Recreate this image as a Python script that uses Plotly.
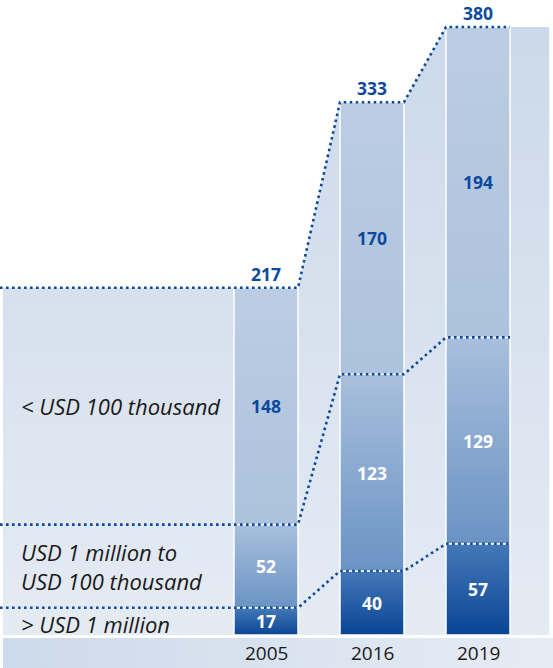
import plotly.graph_objects as go

# ---------------- data ----------------
years = ["2005", "2016", "2019"]
over_1m = [17, 40, 57]            # > USD 1 million
mid_100k_1m = [52, 123, 129]      # USD 1 million to USD 100 thousand
under_100k = [148, 170, 194]      # < USD 100 thousand
totals = [217, 333, 380]
segment_labels = ["> USD 1 million", "USD 1 million to<br>USD 100 thousand", "< USD 100 thousand"]

# ---------------- styling ----------------
FONT = "Open Sans"
DARK_BLUE = "#0c4a9c"
TEXT_DARK = "#1a1a1a"
HW = 0.302                  # half bar width (x units)
X_MIN, X_MAX = -2.5094, 2.7075
Y_MIN, Y_MAX = -20.625, 396.875

seg_scales = [
    [[0, "#0a4494"], [1, "#4479b8"]],   # bottom segment (bottom->top)
    [[0, "#6a93c4"], [1, "#a9bfdc"]],   # middle segment
    [[0, "#adc2dd"], [1, "#bccde3"]],   # top segment
]
seg_text_colors = ["white", "white", DARK_BLUE]

series = [over_1m, mid_100k_1m, under_100k]
n = len(years)
xs = list(range(n))

# cumulative levels
levels = [[0] * n]
for s in series:
    levels.append([levels[-1][i] + s[i] for i in range(n)])

fig = go.Figure()

# background shade under the outline of the totals
left_edge = X_MIN + 0.028
right_edge = xs[-1] + HW + 0.37
bx = [left_edge, xs[0] + HW]
by = [totals[0], totals[0]]
for i in range(1, n):
    bx += [xs[i] - HW, xs[i] + HW]
    by += [totals[i], totals[i]]
bx += [right_edge, right_edge, left_edge, left_edge]
by += [totals[-1], 0, 0, totals[0]]
fig.add_trace(go.Scatter(
    x=bx, y=by, mode="lines", fill="toself", line=dict(width=0),
    fillgradient=dict(type="vertical", start=0, stop=max(totals),
                      colorscale=[[0, "#e5ebf3"], [1, "#cbd9ea"]]),
    hoverinfo="skip"))

# axis band at bottom
band_top = -1.9
fig.add_trace(go.Scatter(
    x=[left_edge, X_MAX, X_MAX, left_edge, left_edge],
    y=[band_top, band_top, Y_MIN, Y_MIN, band_top],
    mode="lines", fill="toself", line=dict(width=0),
    fillgradient=dict(type="horizontal", start=left_edge, stop=X_MAX,
                      colorscale=[[0, "#cddaeb"], [1, "#e6ecf4"]]),
    hoverinfo="skip"))

# bar segments
for k in range(3):
    for i in range(n):
        y0, y1 = levels[k][i], levels[k + 1][i]
        x0, x1 = xs[i] - HW, xs[i] + HW
        fig.add_trace(go.Scatter(
            x=[x0, x1, x1, x0, x0], y=[y0, y0, y1, y1, y0],
            mode="lines", fill="toself",
            line=dict(color="white", width=1.5),
            fillgradient=dict(type="vertical", start=y0, stop=y1,
                              colorscale=seg_scales[k]),
            hoverinfo="skip"))

# dotted connector lines at each cumulative level
for k in range(1, 4):
    lx = [X_MIN, xs[0] + HW]
    ly = [levels[k][0], levels[k][0]]
    for i in range(1, n):
        lx += [xs[i] - HW, xs[i] + HW]
        ly += [levels[k][i], levels[k][i]]
    fig.add_trace(go.Scatter(
        x=lx, y=ly, mode="lines",
        line=dict(color=DARK_BLUE, width=2.6, dash="2.6px,3.4px"),
        hoverinfo="skip"))

annotations = []
# segment values
for k in range(3):
    for i in range(n):
        annotations.append(dict(
            x=xs[i], y=(levels[k][i] + levels[k + 1][i]) / 2,
            text=f"<b>{series[k][i]}</b>", showarrow=False,
            font=dict(family=FONT, size=17.5, color=seg_text_colors[k])))
# totals
for i in range(n):
    annotations.append(dict(
        x=xs[i], y=totals[i], yshift=14, text=f"<b>{totals[i]}</b>",
        showarrow=False, font=dict(family=FONT, size=17.5, color=DARK_BLUE)))
# segment names on the left (aligned with first bar's segments)
label_shift = [-3, 0, 0]
for k in range(3):
    annotations.append(dict(
        x=-2.33, y=(levels[k][0] + levels[k + 1][0]) / 2, yshift=label_shift[k],
        xanchor="left", align="left",
        text=f"<i>{segment_labels[k]}</i>", showarrow=False,
        font=dict(family=FONT, size=22, color=TEXT_DARK)))
# year labels
for i in range(n):
    annotations.append(dict(
        x=xs[i], y=(band_top + Y_MIN) / 2, text=years[i], showarrow=False,
        font=dict(family=FONT, size=19, color=TEXT_DARK)))

fig.update_layout(
    width=553, height=668,
    margin=dict(l=0, r=0, t=0, b=0),
    paper_bgcolor="white", plot_bgcolor="white",
    showlegend=False,
    xaxis=dict(range=[X_MIN, X_MAX], visible=False, fixedrange=True),
    yaxis=dict(range=[Y_MIN, Y_MAX], visible=False, fixedrange=True),
    annotations=annotations,
)

fig.write_html(
    "out.html",
    config={"displayModeBar": False},
    post_script="document.body.style.margin='0';document.body.style.overflow='hidden';",
)
